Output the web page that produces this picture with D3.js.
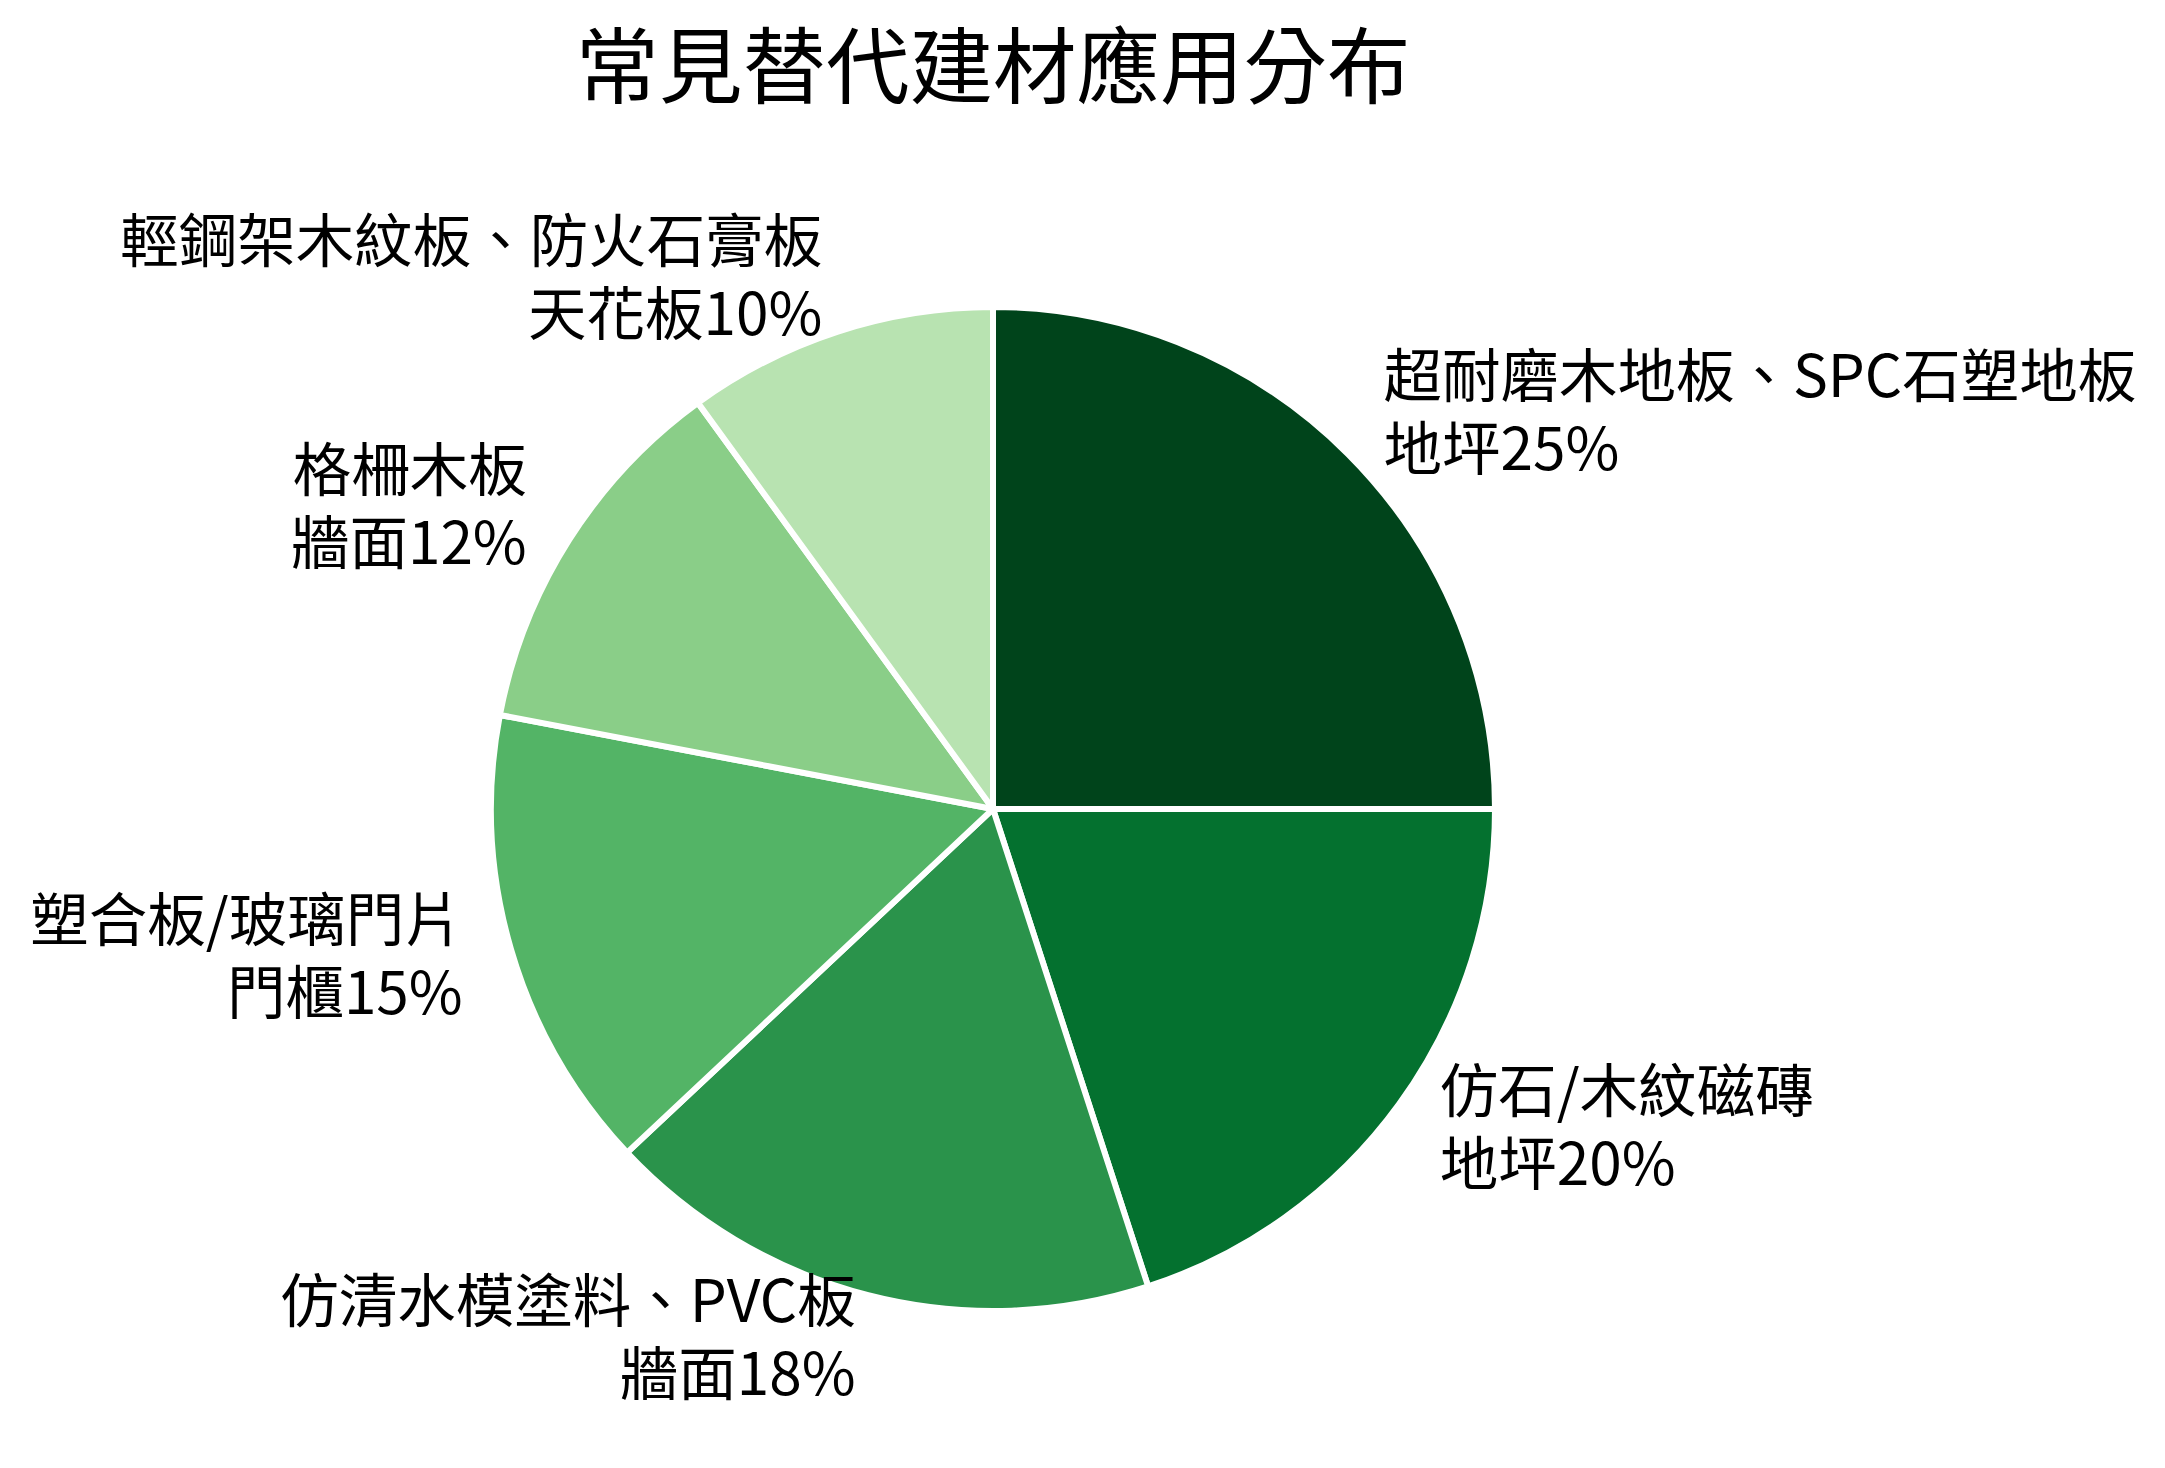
<!DOCTYPE html>
<html>
<head>
<meta charset="utf-8">
<script src="https://cdn.jsdelivr.net/npm/d3@7"></script>
<style>
  html, body { margin: 0; padding: 0; background: #fff; }
  svg { display: block; }
  text { font-family: "Noto Sans CJK TC", "Noto Sans CJK SC", sans-serif; fill: #000; }
</style>
</head>
<body>
<svg id="chart" width="2165" height="1468"></svg>
<script>
const title = "常見替代建材應用分布";
const categories = [
  ["超耐磨木地板、SPC石塑地板", "地坪25%"],
  ["仿石/木紋磁磚", "地坪20%"],
  ["仿清水模塗料、PVC板", "牆面18%"],
  ["塑合板/玻璃門片", "門櫃15%"],
  ["格柵木板", "牆面12%"],
  ["輕鋼架木紋板、防火石膏板", "天花板10%"]
];
const values = [25, 20, 18, 15, 12, 10];
const colorPositions = [1.0, 0.86, 0.72, 0.58, 0.44, 0.30];

const W = 2165, H = 1468;
const cx = 993, cy = 809, R = 502;
const svg = d3.select("#chart");

const greens = d3.scaleLinear()
  .domain([0, 0.125, 0.25, 0.375, 0.5, 0.625, 0.75, 0.875, 1])
  .range(["#f7fcf5","#e5f5e0","#c7e9c0","#a1d99b","#74c476","#41ab5d","#238b45","#006d2c","#00441b"])
  .interpolate(d3.interpolateRgb);

const data = values.map((v, i) => ({ v, label: categories[i], color: greens(colorPositions[i]) }));

const pie = d3.pie().value(d => d.v).sort(null).startAngle(0).endAngle(2 * Math.PI);
const arc = d3.arc().innerRadius(0).outerRadius(R);
const arcs = pie(data);

const g = svg.append("g").attr("transform", `translate(${cx},${cy})`);
g.selectAll("path.slice").data(arcs).enter().append("path")
  .attr("class", "slice")
  .attr("d", arc)
  .attr("fill", d => d.data.color)
  .attr("stroke", "#fff")
  .attr("stroke-width", 6)
  .attr("stroke-linejoin", "round");

const labelR = 1.1 * R;
const fs = 58.5;
arcs.forEach(a => {
  const mid = (a.startAngle + a.endAngle) / 2;
  const lx = labelR * Math.sin(mid);
  const ly = -labelR * Math.cos(mid);
  const anchor = lx >= 0 ? "start" : "end";
  const t = g.append("text")
    .attr("x", lx).attr("y", ly)
    .attr("text-anchor", anchor)
    .style("font-size", fs + "px");
  t.append("tspan").attr("x", lx).attr("y", ly - 22).text(a.data.label[0]);
  t.append("tspan").attr("x", lx).attr("y", ly + 51).text(a.data.label[1]);
});

svg.append("text")
  .attr("x", cx).attr("y", 97)
  .attr("text-anchor", "middle")
  .style("font-size", "83.5px")
  .text(title);
</script>
</body>
</html>
